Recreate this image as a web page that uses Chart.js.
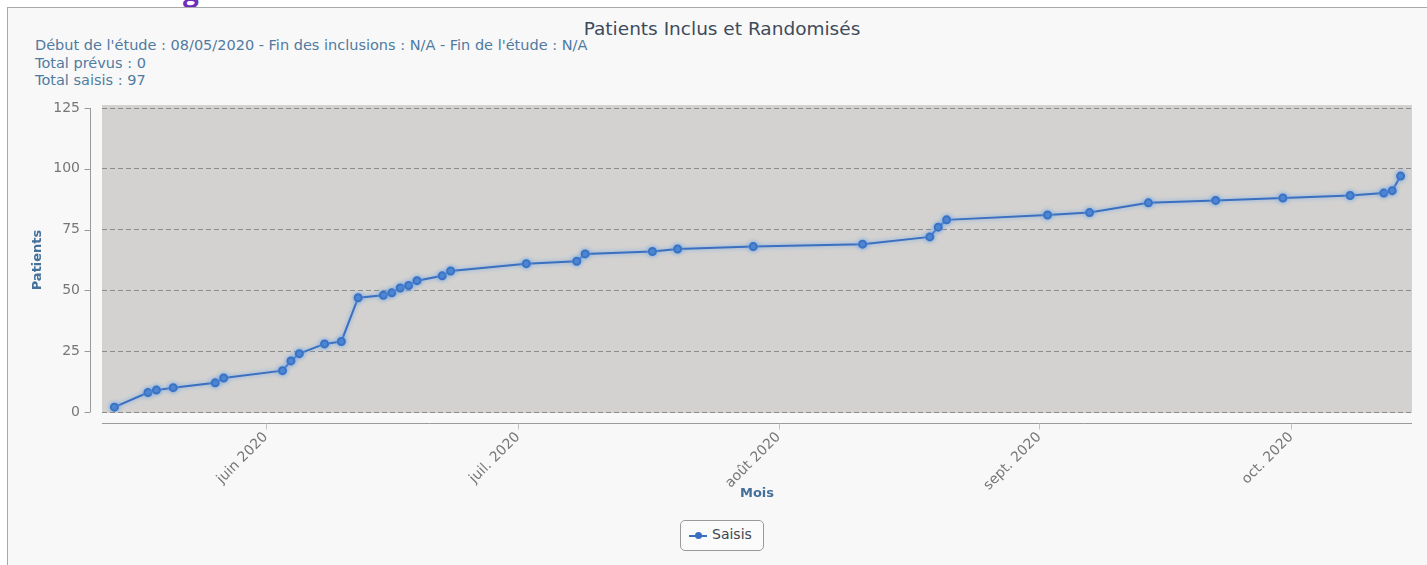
<!DOCTYPE html>
<html>
<head>
<meta charset="utf-8">
<script src="https://cdn.jsdelivr.net/npm/chart.js@4.4.1/dist/chart.umd.min.js"></script>
<style>
  body { margin: 0; background: #ffffff; font-family: "DejaVu Sans", sans-serif; }
  #page { position: relative; width: 1427px; height: 565px; overflow: hidden; }
  #cut { position: absolute; left: 183px; top: -24px; font: bold 28px/28px "Open Sans", sans-serif; color: #6f2dbd; }
  #panel { position: absolute; left: 7px; top: 7px; width: 1440px; height: 570px; background: #f9f8f9;
           border-left: 1px solid #a9a9a9; border-top: 1px solid #a9a9a9; }
  #title { position: absolute; left: 0; width: 1444px; top: 18px; text-align: center; font-size: 18.5px; color: #3e4b5b; }
  .info { position: absolute; left: 35px; font-size: 14.5px; color: #4f7ba0; }
  #legend { position: absolute; left: 680px; top: 520px; width: 84px; height: 31px; box-sizing: border-box;
            border: 1px solid #9a9a9a; border-radius: 5px; background: #fbfbfb; font-size: 14px; color: #3d4550; }
  #legend .line { position: absolute; left: 8px; top: 14px; width: 18px; height: 2px; background: #3b6fbf; }
  #legend .dot { position: absolute; left: 14px; top: 11px; width: 7px; height: 7px; border-radius: 50%; background: #3b6fbf; }
  #legend .txt { position: absolute; left: 31px; top: 5px; }
  canvas { position: absolute; left: 0; top: 0; }
</style>
</head>
<body>
<div id="page">
  <div id="cut">g</div>
  <div id="panel"></div>
  <div id="title">Patients Inclus et Randomisés</div>
  <div class="info" style="top:37px">Début de l'étude : 08/05/2020 - Fin des inclusions : N/A - Fin de l'étude : N/A</div>
  <div class="info" style="top:55px">Total prévus : 0</div>
  <div class="info" style="top:72px">Total saisis : 97</div>
  <canvas id="chart" width="1427" height="565"></canvas>
  <div id="legend"><span class="line"></span><span class="dot"></span><span class="txt">Saisis</span></div>
</div>
<script>
// dates of entry and cumulative number of patients
const entryDates = [
  '2020-05-14', '2020-05-18', '2020-05-19', '2020-05-21', '2020-05-26', '2020-05-27',
  '2020-06-03', '2020-06-04', '2020-06-05', '2020-06-08', '2020-06-10', '2020-06-12',
  '2020-06-15', '2020-06-16', '2020-06-17', '2020-06-18', '2020-06-19', '2020-06-22', '2020-06-23',
  '2020-07-02', '2020-07-08', '2020-07-09', '2020-07-17', '2020-07-20', '2020-07-29',
  '2020-08-11', '2020-08-19', '2020-08-20', '2020-08-21',
  '2020-09-02', '2020-09-07', '2020-09-14', '2020-09-22', '2020-09-30',
  '2020-10-08', '2020-10-12', '2020-10-13', '2020-10-14'
];
const saisis = [
  2, 8, 9, 10, 12, 14,
  17, 21, 24, 28, 29, 47,
  48, 49, 51, 52, 54, 56, 58,
  61, 62, 65, 66, 67, 68,
  69, 72, 76, 79,
  81, 82, 86, 87, 88,
  89, 90, 91, 97
];
const monthTicks = ['2020-06-01', '2020-07-01', '2020-08-01', '2020-09-01', '2020-10-01'];
const monthLabels = ['juin 2020', 'juil. 2020', 'août 2020', 'sept. 2020', 'oct. 2020'];
const axisStart = '2020-05-12T12:40:00Z';
const axisEnd = '2020-10-15T08:30:00Z';

const ts = s => Date.parse(s.length === 10 ? s + 'T00:00:00Z' : s);
const points = entryDates.map((d, i) => ({ x: ts(d), y: saisis[i] }));

// grey plot background + detached axis lines
const framePlugin = {
  id: 'frame',
  beforeDraw(chart) {
    const { ctx, chartArea: a } = chart;
    ctx.save();
    ctx.fillStyle = '#d3d2d0';
    ctx.fillRect(a.left, a.top - 3, a.right - a.left, a.bottom - a.top + 4);
    ctx.restore();
  },
  afterDraw(chart) {
    const { ctx, chartArea: a, scales } = chart;
    ctx.save();
    ctx.strokeStyle = '#9a9a9a';
    ctx.lineWidth = 1;
    ctx.beginPath();
    const yx = a.left - 11.5;
    ctx.moveTo(yx, a.top); ctx.lineTo(yx, a.bottom);
    scales.y.ticks.forEach(t => {
      const py = Math.round(scales.y.getPixelForValue(t.value)) + 0.5;
      ctx.moveTo(yx - 6, py); ctx.lineTo(yx, py);
    });
    const xy = a.bottom + 11.5;
    ctx.moveTo(a.left, xy); ctx.lineTo(a.right, xy);
    ctx.stroke();
    ctx.strokeStyle = '#c4c4c4';
    ctx.beginPath();
    scales.x.ticks.forEach(t => {
      const px = Math.round(scales.x.getPixelForValue(t.value)) + 0.5;
      ctx.moveTo(px, xy); ctx.lineTo(px, xy + 6);
    });
    ctx.stroke();
    ctx.restore();
  },
  beforeDatasetDraw(chart) {
    const ctx = chart.ctx;
    ctx.save();
    ctx.shadowColor = 'rgba(110,165,235,0.9)';
    ctx.shadowBlur = 4;
  },
  afterDatasetDraw(chart) {
    chart.ctx.restore();
  }
};

new Chart(document.getElementById('chart'), {
  type: 'line',
  data: {
    datasets: [{
      label: 'Saisis',
      data: points,
      borderColor: '#3b6fbf',
      backgroundColor: '#3b73c4',
      pointBackgroundColor: '#3b73c4',
      pointBorderColor: '#3b73c4',
      borderWidth: 2,
      pointRadius: 3.5,
      tension: 0,
      fill: false
    }]
  },
  options: {
    responsive: false,
    animation: false,
    layout: { padding: { top: 108, left: 0, right: 15, bottom: 58 } },
    plugins: {
      legend: { display: false },
      tooltip: { enabled: false }
    },
    scales: {
      x: {
        type: 'linear',
        min: ts(axisStart),
        max: ts(axisEnd),
        afterBuildTicks: s => { s.ticks = monthTicks.map(m => ({ value: ts(m) })); },
        afterFit: s => { s.height = 95; },
        grid: { display: false },
        border: { display: false },
        ticks: {
          autoSkip: false,
          minRotation: 45,
          maxRotation: 45,
          padding: 9,
          color: '#777777',
          font: { family: 'DejaVu Sans', size: 14 },
          callback: (v, i) => monthLabels[i]
        },
        title: {
          display: true,
          text: 'Mois',
          color: '#44709a',
          font: { family: 'DejaVu Sans', size: 13, weight: 'bold' },
          padding: { top: 0, bottom: 6 }
        }
      },
      y: {
        min: 0,
        max: 125,
        afterFit: s => { s.width = 102; },
        ticks: {
          stepSize: 25,
          padding: 22,
          color: '#777777',
          font: { family: 'DejaVu Sans', size: 14 }
        },
        grid: { color: '#8c8c8c', lineWidth: 1, drawTicks: false },
        border: { display: false, dash: [5, 3] },
        title: {
          display: true,
          text: 'Patients',
          color: '#44709a',
          font: { family: 'DejaVu Sans', size: 13, weight: 'bold' },
          padding: { top: 30, bottom: 0 }
        }
      }
    }
  },
  plugins: [framePlugin]
});
</script>
</body>
</html>
